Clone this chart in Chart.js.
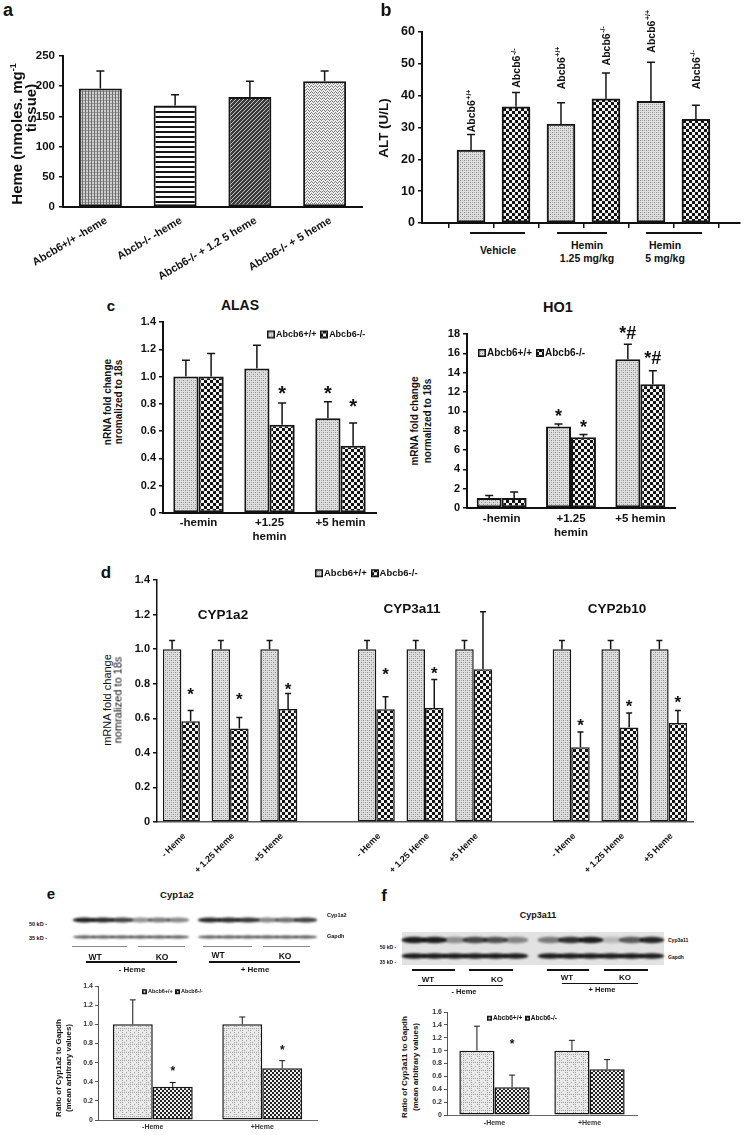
<!DOCTYPE html>
<html>
<head>
<meta charset="utf-8">
<script src="https://cdn.jsdelivr.net/npm/chart.js@4.4.0/dist/chart.umd.min.js"></script>
<style>
  html, body { margin: 0; padding: 0; background: #fff; }
  body { position: relative; width: 745px; height: 1135px; overflow: hidden; font-family: "Liberation Sans", Arial, sans-serif; }
</style>
</head>
<body>
<script>
// ---- a: heme content ----
const hemeLabels = ['Abcb6+/+ -heme', 'Abcb-/- -heme', 'Abcb6-/- + 1.2 5 heme', 'Abcb6-/- + 5 heme'];
const hemeValues = [196, 168, 182, 208];
const hemeErrors = [29, 18, 26, 17];
const hemeTicks = [0, 50, 100, 150, 200, 250];

// ---- b: ALT ----
const altGenotypes = ['+/+', '-/-', '+/+', '-/-', '+/+', '-/-'];
const altValues = [22.9, 36.5, 31.1, 39.0, 38.2, 32.6];
const altErrors = [4.9, 4.5, 6.7, 8.1, 12.3, 4.4];
const altTagAt = [28.5, 42.5, 42, 49.5, 53.5, 42];
const altTicks = [0, 10, 20, 30, 40, 50, 60];

// ---- c: ALAS / HO1 ----
const doseLabels = [['-hemin'], ['+1.25', 'hemin'], ['+5 hemin']];
const alasWT = [1.0, 1.06, 0.695];
const alasWTErr = [0.12, 0.17, 0.12];
const alasWTStar = [null, null, 0.91];
const alasKO = [1.0, 0.646, 0.493];
const alasKOErr = [0.17, 0.16, 0.166];
const alasKOStar = [null, 0.91, 0.82];
const alasTicks = [0, 0.2, 0.4, 0.6, 0.8, 1, 1.2, 1.4];
const ho1WT = [1.04, 8.43, 15.4];
const ho1WTErr = [0.26, 0.27, 1.53];
const ho1WTStar = [null, 9.95, 18.5];
const ho1WTMark = ['', '*', '*#'];
const ho1KO = [1.04, 7.33, 12.8];
const ho1KOErr = [0.62, 0.27, 1.4];
const ho1KOStar = [null, 8.8, 16.0];
const ho1KOMark = ['', '*', '*#'];
const ho1Ticks = [0, 2, 4, 6, 8, 10, 12, 14, 16, 18];

// ---- d: CYP genes ----
const cypGenes = ['CYP1a2', 'CYP3a11', 'CYP2b10'];
const cypLabels = ['- Heme', '+ 1.25 Heme', '+5 Heme', '', '- Heme', '+ 1.25 Heme', '+5 Heme', '', '- Heme', '+ 1.25 Heme', '+5 Heme'];
const cypWT = [1, 1, 1, null, 1, 1, 1, null, 1, 1, 1];
const cypWTErr = [0.05, 0.05, 0.05, null, 0.05, 0.05, 0.05, null, 0.05, 0.05, 0.05];
const cypKO = [0.583, 0.541, 0.653, null, 0.652, 0.66, 0.884, null, 0.432, 0.546, 0.573];
const cypKOErr = [0.062, 0.063, 0.09, null, 0.072, 0.164, 0.332, null, 0.089, 0.085, 0.072];
const cypKOStar = [0.763, 0.734, 0.788, null, 0.878, 0.882, null, null, 0.585, 0.695, 0.718];
const cypTicks = [0, 0.2, 0.4, 0.6, 0.8, 1, 1.2, 1.4];

// ---- e / f: western blot quantification ----
const blotLabels = ['-Heme', '+Heme'];
const cyp1a2WT = [1.0, 1.0];
const cyp1a2WTErr = [0.255, 0.076];
const cyp1a2KO = [0.347, 0.54];
const cyp1a2KOErr = [0.045, 0.08];
const cyp1a2KOStar = [0.54, 0.76];
const cyp1a2Ticks = [0, 0.2, 0.4, 0.6, 0.8, 1, 1.2, 1.4];
const cyp3a11WT = [1.0, 1.0];
const cyp3a11WTErr = [0.38, 0.16];
const cyp3a11KO = [0.43, 0.71];
const cyp3a11KOErr = [0.19, 0.15];
const cyp3a11KOStar = [1.14, null];
const cyp3a11Ticks = [0, 0.2, 0.4, 0.6, 0.8, 1, 1.2, 1.4, 1.6];

const FONT = '"Liberation Sans", Arial, sans-serif';
Chart.defaults.font.family = FONT;
Chart.defaults.color = '#111';

// fill patterns
function makeTile(w, h, paint) {
    const c = document.createElement('canvas');
    c.width = w; c.height = h;
    paint(c.getContext('2d'));
    return c;
}
function dots(g, color, pts) {
    g.fillStyle = color;
    pts.forEach(([x, y]) => g.fillRect(x, y, 1, 1));
}
const tiles = {
    stipple: makeTile(4, 4, g => {
        g.fillStyle = '#dedede'; g.fillRect(0, 0, 4, 4);
        dots(g, '#8a8a8a', [[0, 0], [2, 2]]);
        dots(g, '#b8b8b8', [[2, 0], [0, 2]]);
    }),
    checker: makeTile(6, 6, g => {
        g.fillStyle = '#121212'; g.fillRect(0, 0, 6, 6);
        g.fillStyle = '#f2f2f2'; g.fillRect(0, 0, 3, 3); g.fillRect(3, 3, 3, 3);
    }),
    vgrid: makeTile(3, 3, g => {
        g.fillStyle = '#cfcfcf'; g.fillRect(0, 0, 3, 3);
        g.fillStyle = '#6e6e6e'; g.fillRect(0, 0, 1, 3);
        dots(g, '#9a9a9a', [[1, 0], [2, 0]]);
    }),
    hlines: makeTile(4, 5, g => {
        g.fillStyle = '#fff'; g.fillRect(0, 0, 4, 5);
        g.fillStyle = '#151515'; g.fillRect(0, 0, 4, 2);
    }),
    diag: makeTile(4, 4, g => {
        g.fillStyle = '#3a3a3a'; g.fillRect(0, 0, 4, 4);
        dots(g, '#c4c4c4', [[0, 3], [1, 2], [2, 1], [3, 0]]);
    }),
    zigzag: makeTile(4, 3, g => {
        g.fillStyle = '#f0f0f0'; g.fillRect(0, 0, 4, 3);
        dots(g, '#7a7a7a', [[0, 2], [1, 1], [2, 0], [3, 1]]);
    }),
    plaid: makeTile(8, 8, g => {
        g.fillStyle = '#e9e9e9'; g.fillRect(0, 0, 8, 8);
        dots(g, '#a2a2a2', [[0, 0], [2, 0], [4, 0], [6, 0], [0, 2], [0, 4], [0, 6], [4, 4], [2, 6], [6, 2]]);
    }),
    fine: makeTile(4, 4, g => {
        g.fillStyle = '#232323'; g.fillRect(0, 0, 4, 4);
        g.fillStyle = '#eeeeee'; g.fillRect(0, 0, 2, 2); g.fillRect(2, 2, 2, 2);
    })
};
const scratch = document.createElement('canvas').getContext('2d');
const pat = name => scratch.createPattern(tiles[name], 'repeat');

// error bars, asterisks and genotype tags drawn from the dataset values
const marks = {
    id: 'marks',
    afterDatasetsDraw(chart) {
        const ctx = chart.ctx, ys = chart.scales.y;
        chart.data.datasets.forEach((ds, i) => {
            const bars = chart.getDatasetMeta(i).data;
            bars.forEach((bar, j) => {
                const raw = ds.data[j];
                const v = raw && typeof raw === 'object' ? raw.y : raw;
                if (v == null) return;
                ctx.save();
                if (ds.errors && ds.errors[j] != null) {
                    const top = ys.getPixelForValue(v + ds.errors[j]);
                    ctx.strokeStyle = '#151515';
                    ctx.lineWidth = ds.errWidth || 1.5;
                    ctx.beginPath();
                    ctx.moveTo(bar.x, bar.y); ctx.lineTo(bar.x, top);
                    ctx.moveTo(bar.x - ds.cap, top); ctx.lineTo(bar.x + ds.cap, top);
                    ctx.stroke();
                }
                if (ds.stars && ds.stars[j] != null) {
                    const s = ds.starSize || 18;
                    ctx.font = `bold ${s}px ${FONT}`;
                    ctx.fillStyle = '#111';
                    ctx.textAlign = 'center';
                    ctx.textBaseline = 'alphabetic';
                    const txt = ds.starText ? ds.starText[j] : '*';
                    ctx.fillText(txt, bar.x, ys.getPixelForValue(ds.stars[j]) + s * 0.57);
                }
                if (ds.tags) {
                    ctx.translate(bar.x + 4, ys.getPixelForValue(ds.tagAt[j]));
                    ctx.rotate(-Math.PI / 2);
                    ctx.fillStyle = '#111';
                    ctx.textAlign = 'left';
                    ctx.font = `bold 10.5px ${FONT}`;
                    ctx.fillText('Abcb6', 0, 0);
                    const w = ctx.measureText('Abcb6').width;
                    ctx.font = `bold 7px ${FONT}`;
                    ctx.fillText(ds.tags[j], w + 0.5, -4.5);
                }
                ctx.restore();
            });
        });
    }
};

function place(area, m) {
    const cv = document.createElement('canvas');
    const w = area.w + m.l + m.r, h = area.h + m.t + m.b;
    cv.width = w; cv.height = h;
    Object.assign(cv.style, {
        position: 'absolute', left: (area.x - m.l) + 'px', top: (area.y - m.t) + 'px',
        width: w + 'px', height: h + 'px'
    });
    document.body.appendChild(cv);
    return cv;
}

function yAxis(ticksArr, size, o = {}) {
    return {
        min: ticksArr[0],
        max: ticksArr[ticksArr.length - 1],
        ticks: {
            stepSize: ticksArr[1] - ticksArr[0],
            font: { size, weight: o.weight || 'bold' },
            color: o.color || '#111',
            padding: o.pad ?? 3
        },
        grid: { drawOnChartArea: false, drawTicks: true, tickLength: o.tick ?? 4, color: o.line || '#111', lineWidth: o.lw || 1.5 },
        border: { color: o.line || '#111', width: o.bw || 2 }
    };
}

function xAxis(size, o = {}) {
    return {
        offset: true,
        grid: { display: false, drawTicks: false },
        border: { color: o.line || '#111', width: o.bw || 2 },
        ticks: {
            font: { size, weight: o.weight || 'bold' },
            color: o.color || '#111',
            padding: o.pad ?? 3,
            labelOffset: o.shift || 0,
            autoSkip: false,
            maxRotation: o.rot || 0,
            minRotation: o.rot || 0
        }
    };
}

// the scale boxes are given fixed sizes so the plot area lands where the figure has it;
// x boxes must be tall enough to hold their labels, which are clipped to the box
function barChart(area, m, yW, xH, cfg) {
    const cv = place(area, m);
    const x = Object.assign({}, cfg.x, {
        afterFit(s) { s.height = xH; s.paddingLeft = 0; s.paddingRight = 0; }
    });
    const y = Object.assign({}, cfg.y, {
        afterFit(s) { s.width = yW; s.paddingTop = 0; s.paddingBottom = 0; }
    });
    return new Chart(cv, {
        type: 'bar',
        data: { labels: cfg.labels, datasets: cfg.datasets },
        options: {
            responsive: false,
            animation: false,
            devicePixelRatio: 1,
            layout: { padding: { left: m.l - yW, top: m.t, right: m.r, bottom: m.b - xH } },
            plugins: { legend: { display: false }, tooltip: { enabled: false } },
            scales: { x, y }
        },
        plugins: [marks]
    });
}

function series(data, fill, extra) {
    return Object.assign({
        data,
        backgroundColor: fill,
        borderColor: '#151515',
        borderWidth: 2,
        borderSkipped: false,
        barPercentage: 1,
        categoryPercentage: 0.7,
        cap: 4
    }, extra);
}

// ---- HTML text helpers ----
function label(html, x, y, size, o = {}) {
    const d = document.createElement('div');
    d.innerHTML = html;
    Object.assign(d.style, {
        position: 'absolute', left: x + 'px', top: y + 'px',
        fontSize: size + 'px', fontWeight: o.weight || 'bold', color: o.color || '#111',
        whiteSpace: 'nowrap', lineHeight: '1',
        transform: `translate(${o.ax ?? -50}%, -50%)` + (o.rot ? ` rotate(${o.rot}deg)` : '')
    });
    document.body.appendChild(d);
}
function rule(x1, x2, y, w, color) {
    const d = document.createElement('div');
    Object.assign(d.style, {
        position: 'absolute', left: x1 + 'px', top: (y - w / 2) + 'px',
        width: (x2 - x1) + 'px', height: w + 'px', background: color || '#111'
    });
    document.body.appendChild(d);
}
function legend(x, y, size, box, items) {
    const d = document.createElement('div');
    Object.assign(d.style, {
        position: 'absolute', left: x + 'px', top: y + 'px', transform: 'translateY(-50%)',
        display: 'flex', alignItems: 'center', fontSize: size + 'px', fontWeight: 'bold',
        whiteSpace: 'nowrap', lineHeight: '1', color: '#111'
    });
    items.forEach(([tile, text], i) => {
        const sw = document.createElement('canvas');
        sw.width = box; sw.height = box;
        const g = sw.getContext('2d');
        g.fillStyle = g.createPattern(tiles[tile], 'repeat');
        g.fillRect(0, 0, box, box);
        g.strokeStyle = '#111'; g.lineWidth = 1.5;
        g.strokeRect(0.75, 0.75, box - 1.5, box - 1.5);
        sw.style.marginLeft = i ? (size * 0.4) + 'px' : '0';
        sw.style.marginRight = '1px';
        const s = document.createElement('span');
        s.textContent = text;
        d.appendChild(sw); d.appendChild(s);
    });
    document.body.appendChild(d);
}

// ================= panel a =================
barChart({ x: 63, y: 56, w: 299, h: 151 }, { l: 62, t: 10, r: 6, b: 88 }, 46, 84, {
    labels: hemeLabels,
    x: xAxis(11, { rot: 31, pad: 7, shift: 6 }),
    y: yAxis(hemeTicks, 11.5, { pad: 4 }),
    datasets: [series(hemeValues, [pat('vgrid'), pat('hlines'), pat('diag'), pat('zigzag')], {
        errors: hemeErrors, barPercentage: 0.575, categoryPercentage: 1, cap: 4
    })]
});
label('a', 8, 10, 18);
label('Heme (nmoles. mg<sup style="font-size:0.6em">-1</sup>', 16, 134, 15, { rot: -90 });
label('tissue)', 30, 108, 15, { rot: -90 });

// ================= panel b =================
barChart({ x: 422, y: 32, w: 318, h: 191 }, { l: 42, t: 32, r: 4, b: 8 }, 40, 6, {
    x: {
        type: 'linear', min: -1.09, max: 5.98, offset: false,
        grid: { display: true, drawOnChartArea: false, drawTicks: true, tickLength: 5, color: '#111', lineWidth: 1.5 },
        border: { color: '#111', width: 2 },
        ticks: { display: false },
        afterBuildTicks(s) { s.ticks = altValues.map((_, i) => ({ value: i })); }
    },
    y: yAxis(altTicks, 12.5, { pad: 3 }),
    datasets: [series(altValues.map((v, i) => ({ x: i, y: v })),
        altGenotypes.map(g => g === '+/+' ? pat('stipple') : pat('checker')), {
            errors: altErrors, barThickness: 28, cap: 4,
            tags: altGenotypes, tagAt: altTagAt
        })]
});
label('b', 386, 10, 18);
label('ALT (U/L)', 384, 128, 13.5, { rot: -90 });
rule(470, 525, 233, 2);
rule(557, 607, 233, 2);
rule(646, 702, 233, 2);
label('Vehicle', 498, 250, 10.5);
label('Hemin', 587, 245, 10.5);
label('1.25 mg/kg', 587, 258, 10.5);
label('Hemin', 665, 245, 10.5);
label('5 mg/kg', 665, 258, 10.5);

// ================= panel c: ALAS =================
barChart({ x: 163, y: 322, w: 213, h: 191 }, { l: 34, t: 8, r: 4, b: 40 }, 30, 38, {
    labels: doseLabels,
    x: xAxis(11.5, { pad: 3 }),
    y: yAxis(alasTicks, 11),
    datasets: [
        series(alasWT, pat('stipple'), { errors: alasWTErr, stars: alasWTStar, starSize: 20, categoryPercentage: 0.71 }),
        series(alasKO, pat('checker'), { errors: alasKOErr, stars: alasKOStar, starSize: 20, categoryPercentage: 0.71 })
    ]
});
label('c', 111, 305, 15);
label('ALAS', 240, 305, 14);
label('nRNA fold change', 108, 402, 10, { rot: -90 });
label('nromalized to 18s', 119, 402, 10, { rot: -90 });
legend(267, 334, 9, 8, [['stipple', 'Abcb6+/+'], ['checker', 'Abcb6-/-']]);

// ================= panel c: HO1 =================
barChart({ x: 467, y: 334, w: 208, h: 174 }, { l: 30, t: 8, r: 4, b: 40 }, 26, 38, {
    labels: doseLabels,
    x: xAxis(11.5, { pad: 4 }),
    y: yAxis(ho1Ticks, 11),
    datasets: [
        series(ho1WT, pat('stipple'), { errors: ho1WTErr, stars: ho1WTStar, starText: ho1WTMark, starSize: 18, categoryPercentage: 0.72 }),
        series(ho1KO, pat('checker'), { errors: ho1KOErr, stars: ho1KOStar, starText: ho1KOMark, starSize: 18, categoryPercentage: 0.72 })
    ]
});
label('HO1', 558, 307, 14.5);
label('mRNA fold change', 415, 421, 10, { rot: -90 });
label('normalized to 18s', 428, 421, 10, { rot: -90 });
legend(478, 353, 10, 8, [['stipple', 'Abcb6+/+'], ['checker', 'Abcb6-/-']]);

// ================= panel d =================
barChart({ x: 157, y: 580, w: 536, h: 242 }, { l: 34, t: 8, r: 6, b: 62 }, 30, 58, {
    labels: cypLabels,
    x: xAxis(9, { rot: 45, pad: 9, shift: 3, bw: 1.5, line: '#555' }),
    y: yAxis(cypTicks, 11, { bw: 1.5 }),
    datasets: [
        series(cypWT, pat('stipple'), { errors: cypWTErr, borderWidth: 1.5, cap: 3, categoryPercentage: 0.76 }),
        series(cypKO, pat('checker'), { errors: cypKOErr, stars: cypKOStar, starSize: 17, borderWidth: 1.5, cap: 3, categoryPercentage: 0.76 })
    ]
});
label('d', 106, 572, 17);
label(cypGenes[0], 223, 615, 13.5);
label(cypGenes[1], 412, 609, 13.5);
label(cypGenes[2], 617, 609, 13.5);
label('mRNA fold change', 107, 700, 11, { rot: -90, weight: 'normal' });
label('nomralized to 18s', 118, 700, 11, { rot: -90, weight: 'normal' });
legend(315, 573, 9.5, 8, [['stipple', 'Abcb6+/+'], ['checker', 'Abcb6-/-']]);

// ================= western blots =================
function blot(x, y, w, h, paint) {
    const cv = document.createElement('canvas');
    cv.width = w; cv.height = h;
    Object.assign(cv.style, { position: 'absolute', left: x + 'px', top: y + 'px', width: w + 'px', height: h + 'px' });
    document.body.appendChild(cv);
    paint(cv.getContext('2d'));
}
function bandRow(g, x0, laneW, cy, ry, shades) {
    g.save();
    g.filter = 'blur(1px)';
    shades.forEach((a, k) => {
        g.fillStyle = `rgba(18,18,18,${a})`;
        g.beginPath();
        g.ellipse(x0 + laneW * (k + 0.5), cy, laneW * 0.62, ry, 0, 0, Math.PI * 2);
        g.fill();
    });
    g.restore();
}
const cyp1a2Bands = [[0.95, 0.9, 0.8, 0.45, 0.55, 0.5], [0.9, 0.9, 0.85, 0.5, 0.6, 0.8]];
const cyp3a11Bands = [[0.95, 0.95, 0.4, 0.75, 0.7, 0.45], [0.5, 0.85, 0.95, 0.2, 0.65, 0.9]];
const gapdhShade = [0.75, 0.75, 0.75, 0.75, 0.75, 0.75];

blot(60, 905, 275, 40, g => {
    bandRow(g, 15, 18.7, 15, 2.6, cyp1a2Bands[0]);
    bandRow(g, 140, 19.2, 15, 2.6, cyp1a2Bands[1]);
    bandRow(g, 15, 18.7, 32, 1.5, gapdhShade);
    bandRow(g, 140, 19.2, 32, 1.5, gapdhShade);
});
blot(400, 930, 266, 38, g => {
    g.fillStyle = '#e2e2e2';
    g.fillRect(2, 2, 262, 33);
    bandRow(g, 4, 20.3, 10, 3.2, cyp3a11Bands[0]);
    bandRow(g, 140, 20.3, 10, 3.2, cyp3a11Bands[1]);
    bandRow(g, 4, 20.3, 26, 2.8, gapdhShade.map(() => 0.95));
    bandRow(g, 140, 20.3, 26, 2.8, gapdhShade.map(() => 0.95));
});

// ================= panel e =================
label('e', 51, 893, 15);
label('Cyp1a2', 177, 895, 9.5);
label('50 kD -', 38, 925, 5.5);
label('35 kD -', 38, 939, 5.5);
label('Cyp1a2', 327, 916, 5.5, { ax: 0 });
label('Gapdh', 327, 937, 5.5, { ax: 0 });
rule(72, 127, 946, 1, '#888');
rule(138, 185, 946, 1, '#888');
rule(203, 252, 946, 1, '#888');
rule(263, 310, 946, 1, '#888');
label('WT', 95, 957, 8.5);
label('KO', 162, 957, 8.5);
rule(86, 177, 962, 1.5);
label('- Heme', 132, 970, 8);
label('WT', 218, 955, 8.5);
label('KO', 285, 956, 8.5);
rule(209, 300, 962, 1.5);
label('+ Heme', 255, 970, 8);

barChart({ x: 98, y: 986, w: 219, h: 134 }, { l: 24, t: 6, r: 4, b: 15 }, 22, 14, {
    labels: blotLabels,
    x: xAxis(7, { pad: 3, bw: 1, line: '#666', color: '#333' }),
    y: yAxis(cyp1a2Ticks, 7, { pad: 2, tick: 3, lw: 1, bw: 1, line: '#555', color: '#333' }),
    datasets: [
        series(cyp1a2WT, pat('plaid'), { errors: cyp1a2WTErr, borderWidth: 1.5, cap: 3, errWidth: 1, categoryPercentage: 0.73 }),
        series(cyp1a2KO, pat('fine'), { errors: cyp1a2KOErr, stars: cyp1a2KOStar, starSize: 12, borderWidth: 1.5, cap: 3, errWidth: 1, categoryPercentage: 0.73 })
    ]
});
label('Ratio of Cyp1a2 to Gapdh', 59, 1068, 8, { rot: -90 });
label('(mean arbitrary values)', 69, 1068, 8, { rot: -90 });
legend(142, 992, 5.5, 5, [['plaid', 'Abcb6+/+'], ['fine', 'Abcb6-/-']]);

// ================= panel f =================
label('f', 384, 895, 17);
label('Cyp3a11', 538, 915, 9);
label('50 kD -', 388, 947, 5);
label('35 kD -', 388, 962, 5);
label('Cyp3a11', 668, 940, 5, { ax: 0 });
label('Gapdh', 668, 957, 5, { ax: 0 });
rule(412, 455, 970, 1.5);
rule(469, 513, 970, 1.5);
rule(547, 589, 970, 1.5);
rule(604, 648, 970, 1.5);
label('WT', 428, 980, 8);
label('KO', 497, 980, 8);
rule(418, 503, 985, 1);
label('- Heme', 464, 992, 7.5);
label('WT', 567, 978, 8);
label('KO', 625, 978, 8);
rule(562, 638, 983, 1);
label('+ Heme', 602, 990, 7.5);

barChart({ x: 447, y: 1012, w: 190, h: 103 }, { l: 24, t: 6, r: 4, b: 17 }, 22, 16, {
    labels: blotLabels,
    x: xAxis(7, { pad: 4, bw: 1, line: '#666', color: '#333' }),
    y: yAxis(cyp3a11Ticks, 7, { pad: 2, tick: 3, lw: 1, bw: 1, line: '#555', color: '#333' }),
    datasets: [
        series(cyp3a11WT, pat('plaid'), { errors: cyp3a11WTErr, borderWidth: 1.5, cap: 3, errWidth: 1, categoryPercentage: 0.74 }),
        series(cyp3a11KO, pat('fine'), { errors: cyp3a11KOErr, stars: cyp3a11KOStar, starSize: 12, borderWidth: 1.5, cap: 3, errWidth: 1, categoryPercentage: 0.74 })
    ]
});
label('Ratio of Cyp3a11 to Gapdh', 405, 1067, 8, { rot: -90 });
label('(mean arbitrary values)', 416, 1067, 8, { rot: -90 });
legend(487, 1018, 6.5, 5, [['plaid', 'Abcb6+/+'], ['fine', 'Abcb6-/-']]);
</script>
</body>
</html>
